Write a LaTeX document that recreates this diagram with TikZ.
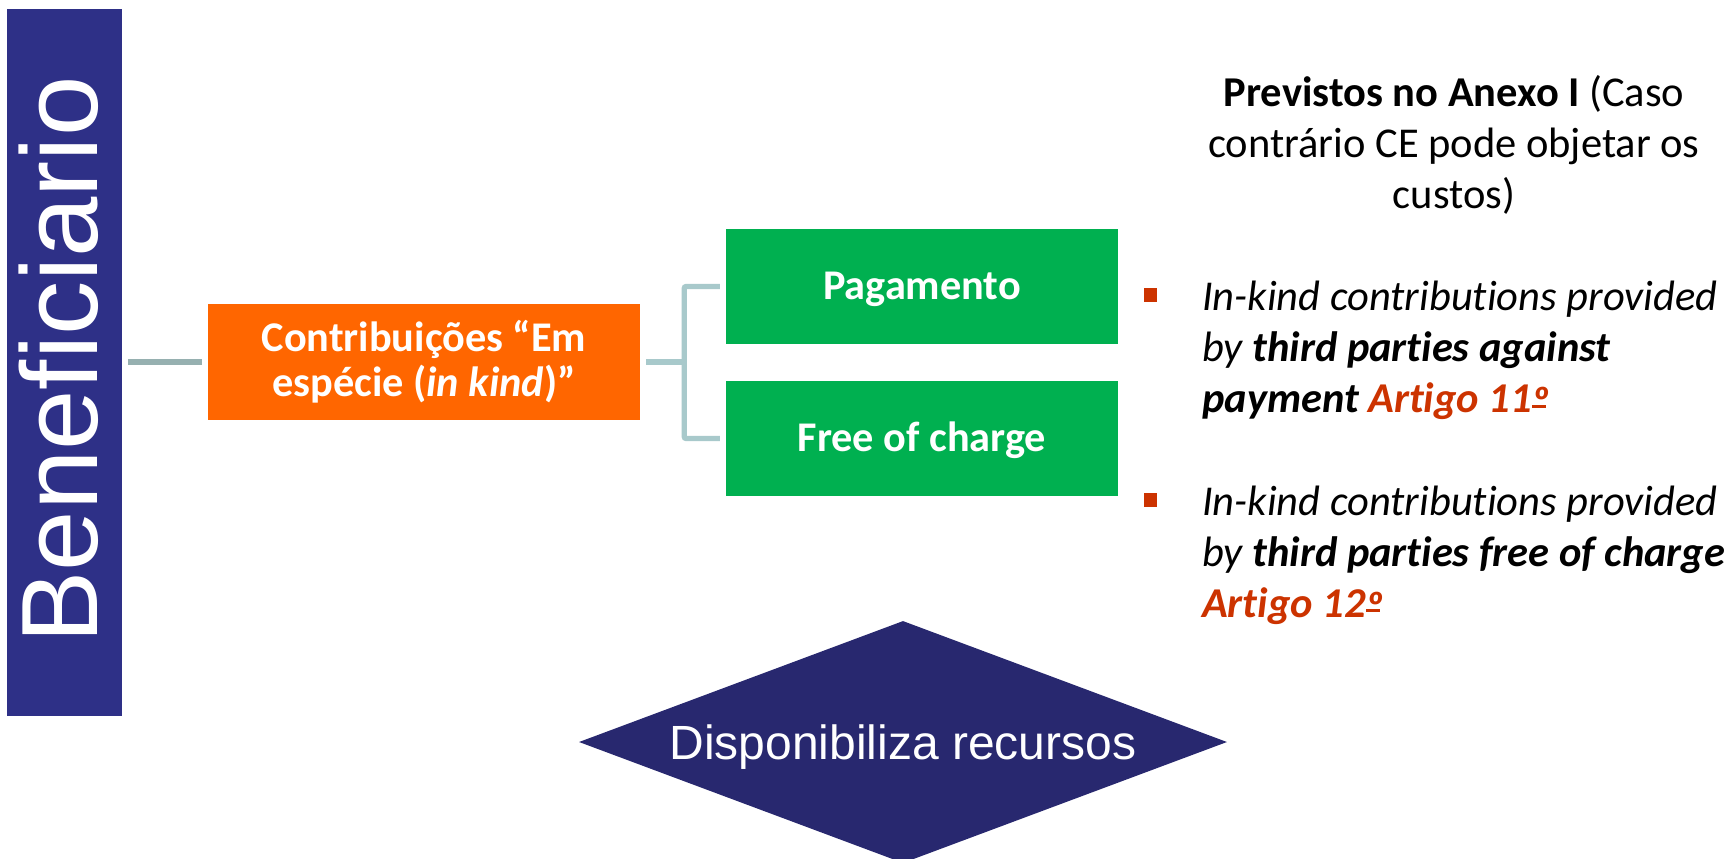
\documentclass[tikz,border=0pt]{standalone}
\usepackage{fontspec}
\setmainfont{Carlito}[Ligatures={NoCommon}]
\newfontfamily\arialfont{Liberation Sans}
\usetikzlibrary{shapes.geometric}
\definecolor{barblue}{HTML}{2E3087}
\definecolor{diablue}{HTML}{28286F}
\definecolor{orangebox}{HTML}{FF6600}
\definecolor{greenbox}{HTML}{00B050}
\definecolor{connA}{HTML}{96B0B0}
\definecolor{connB}{HTML}{A8C9CB}
\definecolor{artred}{HTML}{CC3300}
% ordinal indicator as in Calibri: the real character, lowered, with a bar beneath
\newcommand\myordo{\rlap{\hspace{0.5pt}\raisebox{4.7pt}{\rule{14pt}{3pt}}}\raisebox{-4pt}{º}\hspace{1pt}}
\tikzset{
  boxbase/.style={rectangle, inner sep=0pt, text=white, align=center},
  orangenode/.style={boxbase, fill=orangebox, minimum width=432pt, minimum height=116pt,
     font=\bfseries\fontsize{42.3}{45}\selectfont},
  greennode/.style={boxbase, fill=greenbox, minimum width=392pt, minimum height=115.5pt,
     font=\bfseries\fontsize{42.3}{45}\selectfont, text height=26pt, text depth=0pt},
  connleft/.style={draw=connA, line width=5.3pt},
  connright/.style={draw=connB, line width=5.3pt},
  bulletsq/.style={rectangle, fill=artred, minimum width=13pt, minimum height=14pt, inner sep=0pt},
  bullettext/.style={align=left, inner sep=0pt, font=\itshape\fontsize{42.5}{51}\selectfont},
}
\begin{document}
\begin{tikzpicture}[x=1pt,y=-1pt]
\useasboundingbox (0,0) rectangle (1730,859);
\fill[white] (0,0) rectangle (1730,859);
% left bar
\node[rectangle, fill=barblue, minimum width=115.5pt, minimum height=707pt, inner sep=0pt] (bar) at (64.5,362.5) {};
\node[rotate=90, anchor=base, inner sep=0pt, text=white, font=\arialfont\fontsize{108.5}{108}\selectfont] (bartext) at (97,360) {Beneficiario};
% boxes
\node[orangenode] (orange) at (424,362) {Contribuições “Em\\espécie (\textit{in kind})”};
\node[greennode] (pag) at (922,286.5) {Pagamento};
\node[greennode] (free) at (922,438.5) {Free of charge};
% connectors
\draw[connleft] ([xshift=6pt]bar.east |- orange.west) -- ([xshift=-6pt]orange.west);
\draw[connright] ([xshift=6pt]orange.east) -- ([xshift=44pt]orange.east);
\draw[connright, rounded corners=2pt] ([xshift=-6pt]pag.west) -| ([xshift=44pt]orange.east) |- ([xshift=-6pt]free.west);
% right text (base anchor = baseline of the last line)
\node[align=center, anchor=base, inner sep=0pt, font=\fontsize{42.5}{51}\selectfont] (title) at (1454,208)
  {\textbf{Previstos no Anexo I} (Caso\\contrário CE pode objetar os\\custos)};
\node[bulletsq] (sq1) at (1150.5,295) {};
\node[bullettext, anchor=base west] (bt1) at (1202,412.5)
  {In-kind contributions provided\\by \textbf{third parties against}\\\textbf{payment \textcolor{artred}{Artigo 11\myordo}}};
\node[bulletsq] (sq2) at (1150.5,500) {};
\node[bullettext, anchor=base west] (bt2) at (1202,617)
  {In-kind contributions provided\\by \textbf{third parties free of charge}\\\textbf{\textcolor{artred}{Artigo 12\myordo}}};
% diamond
\node[diamond, fill=diablue, inner sep=0pt, shape aspect=2.68, minimum width=648pt, minimum height=242pt,
  text=white, font=\arialfont\fontsize{48}{50}\selectfont, text height=34pt, text depth=0pt] (dia) at (903,742) {Disponibiliza recursos};
\end{tikzpicture}
\end{document}
